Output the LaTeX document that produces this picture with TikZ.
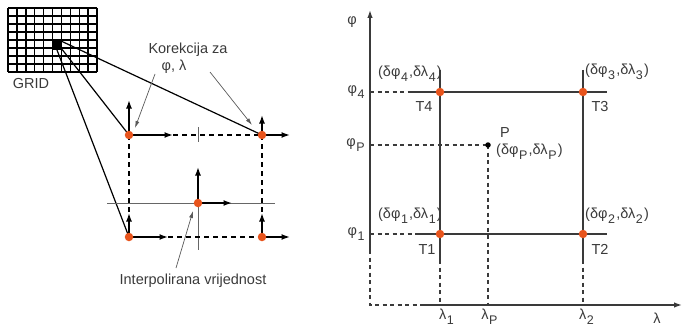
\documentclass[tikz,border=0pt]{standalone}
\usepackage{fontspec}
\setmainfont{Liberation Sans}
\usetikzlibrary{arrows.meta}

\definecolor{dotorange}{HTML}{E8541C}
\definecolor{inkgray}{HTML}{3A3A3A}
\newcommand{\lowsub}[1]{\kern0.6pt\raisebox{-0.65ex}{\fontsize{12.5}{12.5}\selectfont #1}\kern1.2pt}

\begin{document}
\begin{tikzpicture}[x=1pt,y=-1pt,
	lbl/.style={font=\fontsize{14.5}{16}\selectfont, inner sep=1pt, text=inkgray},
	dot/.style={circle, fill=dotorange, inner sep=0pt, minimum size=8.5pt},
	pdot/.style={circle, fill=black, inner sep=0pt, minimum size=5.5pt},
	vec/.style={line width=1.6pt, -{Latex[length=8.5pt,width=6pt]}},
	dashline/.style={line width=1.4pt, dash pattern=on 5pt off 4pt},
	hairline/.style={line width=0.7pt, gray!80!black},
	pointer/.style={line width=0.7pt, gray!70!black, -{Latex[length=7pt,width=4pt]}},
	solidline/.style={line width=1.4pt, inkgray},
	axisdash/.style={line width=1.4pt, inkgray, dash pattern=on 4pt off 3.5pt},
	axisarrow/.style={line width=1.4pt, inkgray, -{Latex[length=8pt,width=5.5pt]}}]

	\useasboundingbox (0,0) rectangle (684,326);

	% GRID
	\foreach \i in {0,...,10}
		\draw[line width=1.4pt] (8+8.9*\i,8) -- (8+8.9*\i,72);
	\foreach \j in {0,...,8}
		\draw[line width=1.4pt] (8,8+8*\j) -- (97,8+8*\j);
	\fill[black] (52.5,39) rectangle (61.4,50);
	\node[lbl] (gridlbl) at (31,84) {GRID};

	% Left points
	\coordinate (TL) at (129,135);
	\coordinate (TR) at (262,135);
	\coordinate (BL) at (129,237);
	\coordinate (BR) at (262,237);
	\coordinate (M) at (198,203);
	\coordinate (cellA) at (61,41);
	\coordinate (cellB) at (61,48);
	\coordinate (cellC) at (57,50);

	% Lines from the grid cell
	\draw[line width=1.2pt] (cellA) -- (TR);
	\draw[line width=1.2pt] (cellB) -- (TL);
	\draw[line width=1.2pt] (cellC) -- (BL);

	% Thin cross through interpolated point
	\draw[hairline] (107,203) -- (275,203);
	\draw[hairline] (198,127) -- (198,142);
	\draw[hairline] (M) -- (198,250);

	% Dashed frame
	\coordinate (TLe) at (173,135);
	\coordinate (BLe) at (168,237);
	\draw[dashline] (TLe) -- (TR);
	\draw[dashline] (BLe) -- (BR);
	\draw[dashline] (TL) -- (BL);
	\draw[dashline] (TR) -- (BR);

	% Correction vectors
	\draw[vec] (TL) -- (129,100);
	\draw[vec] (TL) -- (TLe);
	\draw[vec] (TR) -- (262,115);
	\draw[vec] (TR) -- (290,135);
	\draw[vec] (BL) -- (129,213);
	\draw[vec] (BL) -- (BLe);
	\draw[vec] (BR) -- (262,213);
	\draw[vec] (BR) -- (290,237);
	\draw[vec] (M) -- (198,167);
	\draw[vec] (M) -- (232,203);

	\node[dot] (tl) at (TL) {};
	\node[dot] (tr) at (TR) {};
	\node[dot] (bl) at (BL) {};
	\node[dot] (br) at (BR) {};
	\node[dot] (mid) at (M) {};

	% Labels and pointers
	\node[lbl] (korA) at (188,50) {Korekcija za};
	\node[lbl] (korB) at (174,67) {φ, λ};
	\node[lbl] (interp) at (193,281) {Interpolirana vrijednost};
	\draw[pointer] (155,74) -- (135,128);
	\draw[pointer] (210,72) -- (252,125);
	\draw[pointer] (176,268) -- (193,211);

	% Right diagram points
	\coordinate (O) at (370,305);
	\coordinate (T1) at (440,234);
	\coordinate (T2) at (583,234);
	\coordinate (T3) at (583,92);
	\coordinate (T4) at (440,92);
	\coordinate (P) at (488,145);

	% Axes
	\draw[axisarrow] (370,250) -- (370,10);
	\draw[axisdash] (370,250) -- (O) -- (423,305);
	\draw[axisarrow] (423,305) -- (682,305);

	% Cell lines
	\draw[solidline] (440,70) -- (440,260);
	\draw[axisdash] (440,260) -- (440,305);
	\draw[solidline] (583,70) -- (583,260);
	\draw[axisdash] (583,260) -- (583,305);
	\draw[solidline] (410,92) -- (607,92);
	\draw[axisdash] (370,92) -- (410,92);
	\draw[solidline] (415,234) -- (607,234);
	\draw[axisdash] (370,234) -- (415,234);

	% Point P
	\draw[axisdash] (370,145) -- (P);
	\draw[axisdash] (P) -- (488,305);

	\node[dot] (t1) at (T1) {};
	\node[dot] (t2) at (T2) {};
	\node[dot] (t3) at (T3) {};
	\node[dot] (t4) at (T4) {};
	\node[pdot] (p) at (P) {};

	% Axis labels
	\node[lbl] (philbl) at (352,22) {φ};
	\node[lbl, anchor=east] (phi4) at (367,92) {φ\lowsub{4}};
	\node[lbl, anchor=east] (phiP) at (367,145) {φ\lowsub{P}};
	\node[lbl, anchor=east] (phi1) at (367,234) {φ\lowsub{1}};
	\node[lbl] (lam1) at (447,317) {λ\lowsub{1}};
	\node[lbl] (lamP) at (490,317) {λ\lowsub{P}};
	\node[lbl] (lam2) at (587,317) {λ\lowsub{2}};
	\node[lbl] (lam) at (657,318) {λ};

	% Corner labels
	\node[lbl, anchor=east] (d4) at (443,74) {(δφ\lowsub{4},δλ\lowsub{4})};
	\node[lbl, anchor=west] (d3) at (584,72) {(δφ\lowsub{3},δλ\lowsub{3})};
	\node[lbl, anchor=east] (d1) at (443,216) {(δφ\lowsub{1},δλ\lowsub{1})};
	\node[lbl, anchor=west] (d2) at (584,216) {(δφ\lowsub{2},δλ\lowsub{2})};
	\node[lbl] (t4lbl) at (424,107) {T4};
	\node[lbl] (t3lbl) at (600,107) {T3};
	\node[lbl] (t1lbl) at (427,250) {T1};
	\node[lbl] (t2lbl) at (600,249) {T2};
	\node[lbl] (plbl) at (505,133) {P};
	\node[lbl, anchor=west] (dP) at (495,152) {(δφ\lowsub{P},δλ\lowsub{P})};

\end{tikzpicture}
\end{document}
